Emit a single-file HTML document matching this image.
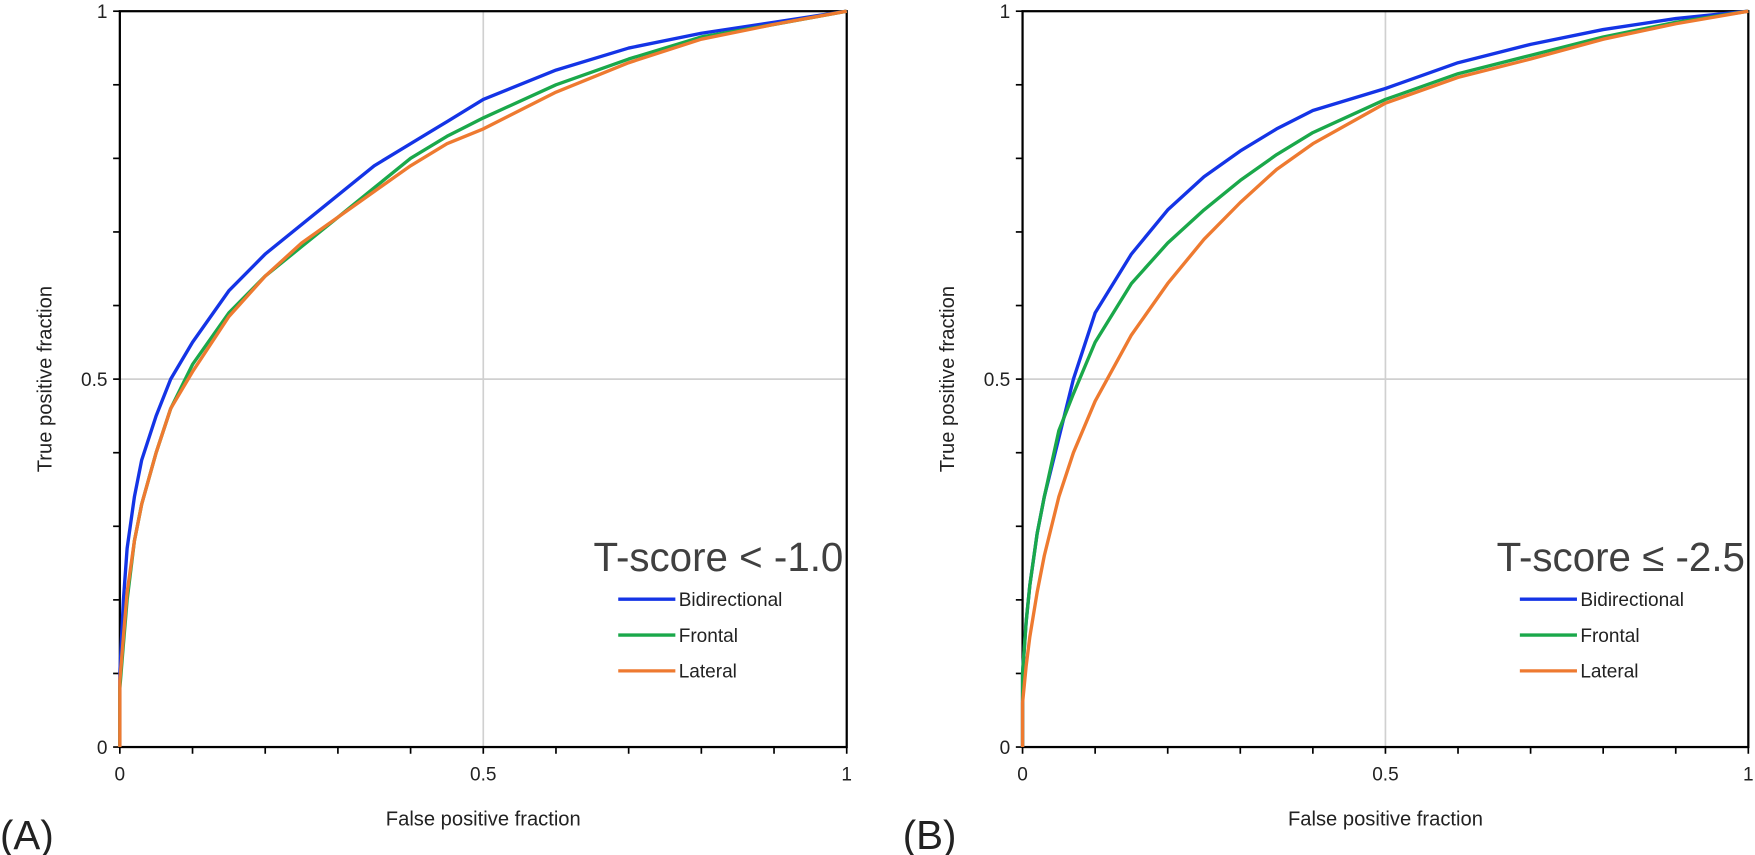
<!DOCTYPE html>
<html><head><meta charset="utf-8"><style>
html,body{margin:0;padding:0;background:#fff}
svg{display:block;font-family:"Liberation Sans",Arial,sans-serif}
</style></head><body>
<svg id="chart" width="1755" height="855" viewBox="0 0 1755 855" xmlns="http://www.w3.org/2000/svg"><g id="root" transform="scale(1.12)"></g></svg>
<script>
const fprA = [0,0,0.005,0.01,0.02,0.03,0.05,0.07,0.1,0.15,0.2,0.25,0.3,0.35,0.4,0.45,0.5,0.6,0.7,0.8,0.9,1];
const bidiA = [0,0.1,0.2,0.27,0.34,0.39,0.45,0.5,0.55,0.62,0.67,0.71,0.75,0.79,0.82,0.85,0.88,0.92,0.95,0.97,0.985,1];
const frontA = [0,0.08,0.14,0.2,0.28,0.33,0.4,0.46,0.52,0.59,0.64,0.68,0.72,0.76,0.8,0.83,0.855,0.9,0.935,0.965,0.982,1];
const latA = [0,0.09,0.15,0.21,0.28,0.33,0.4,0.46,0.51,0.585,0.64,0.685,0.72,0.755,0.79,0.82,0.84,0.89,0.93,0.962,0.982,1];
const fprB = [0,0,0.005,0.01,0.02,0.03,0.05,0.07,0.1,0.15,0.2,0.25,0.3,0.35,0.4,0.5,0.6,0.7,0.8,0.9,1];
const bidiB = [0,0.1,0.17,0.22,0.29,0.34,0.42,0.5,0.59,0.67,0.73,0.775,0.81,0.84,0.865,0.895,0.93,0.955,0.975,0.99,1];
const frontB = [0,0.1,0.17,0.22,0.29,0.34,0.43,0.48,0.55,0.63,0.685,0.73,0.77,0.805,0.835,0.88,0.915,0.94,0.965,0.985,1];
const latB = [0,0.06,0.11,0.15,0.21,0.26,0.34,0.4,0.47,0.56,0.63,0.69,0.74,0.785,0.82,0.875,0.91,0.935,0.962,0.983,1];
const seriesNames = ["Bidirectional","Frontal","Lateral"];
const seriesColors = ["#1434e6","#1aa84a","#ee7a30"];
const axisTicks = [0,0.5,1];
const tickLabels = ["0","0.5","1"];

const NS="http://www.w3.org/2000/svg";
const svg=document.getElementById('root');
function mk(tag,attrs,parent){const e=document.createElementNS(NS,tag);for(const k in attrs)e.setAttribute(k,attrs[k]);(parent||svg).appendChild(e);return e;}

function panel(x0,x1,y0,y1,fpr,series,title,letter,key){
  const g=mk('g',{});
  
  
  const X=v=>x0+v*(x1-x0), Y=v=>y1-v*(y1-y0);
  const gx=mk('line',{x1:X(0.5),x2:X(0.5),y1:y0,y2:y1,stroke:'#d0d0d0','stroke-width':1.5},g);
  
  
  const gy=mk('line',{x1:x0,x2:x1,y1:Y(0.5),y2:Y(0.5),stroke:'#d0d0d0','stroke-width':1.5},g);
  
  
  const fr=mk('rect',{x:x0,y:y0,width:x1-x0,height:y1-y0,fill:'none',stroke:'#000','stroke-width':2},g);
  
  
  for(let i=0;i<=10;i++){
    const v=i/10;
    mk('line',{x1:X(v),x2:X(v),y1:y1,y2:y1+6,stroke:'#000','stroke-width':1.5},g);
    mk('line',{x1:x0-6,x2:x0,y1:Y(v),y2:Y(v),stroke:'#000','stroke-width':1.5},g);
  }
  axisTicks.forEach((v,i)=>{
    const tx=mk('text',{x:X(v),y:y1+30,'font-size':17,'text-anchor':'middle',fill:'#222'},g);
    tx.textContent=tickLabels[i];
    
    
    const ty=mk('text',{x:x0-11,y:Y(v)+6,'font-size':17,'text-anchor':'end',fill:'#222'},g);
    ty.textContent=tickLabels[i];
    
    
  });
  const xt=mk('text',{x:X(0.5),y:y1+70,'font-size':18,'text-anchor':'middle',fill:'#222'},g);
  xt.textContent='False positive fraction';
  
  
  const yt=mk('text',{x:0,y:0,'font-size':18,'text-anchor':'middle',fill:'#222',transform:`translate(${x0-61},${Y(0.5)}) rotate(-90)`},g);
  yt.textContent='True positive fraction';
  
  
  series.forEach((s,k)=>{
    const d=s.map((v,i)=>(i?'L':'M')+X(fpr[i]).toFixed(1)+','+Y(v).toFixed(1)).join('');
    const p=mk('path',{d:d,fill:'none',stroke:seriesColors[k],'stroke-width':3,'stroke-linejoin':'round'},g);
    
    
  });
  const lt=mk('text',{x:x1-3,y:510,'font-size':36,'text-anchor':'end',fill:'#404040'},g);
  lt.textContent=title;
  
  
  seriesNames.forEach((n,k)=>{
    const yy=535+k*32;
    const ll=mk('line',{x1:x1-204,x2:x1-153,y1:yy,y2:yy,stroke:seriesColors[k],'stroke-width':3},g);
    
    
    const lx=mk('text',{x:x1-150,y:yy+6,'font-size':17,fill:'#222'},g);
    lx.textContent=n;
    
    
  });
  const pl=mk('text',{x:x0-107,y:758,'font-size':36,fill:'#222'},g);
  pl.textContent=letter;
  
  
}
panel(107,756,10,667,fprA,[bidiA,frontA,latA],'T-score < -1.0','(A)','a');
panel(913,1561,10,667,fprB,[bidiB,frontB,latB],'T-score ≤ -2.5','(B)','b');
</script>
</body></html>
